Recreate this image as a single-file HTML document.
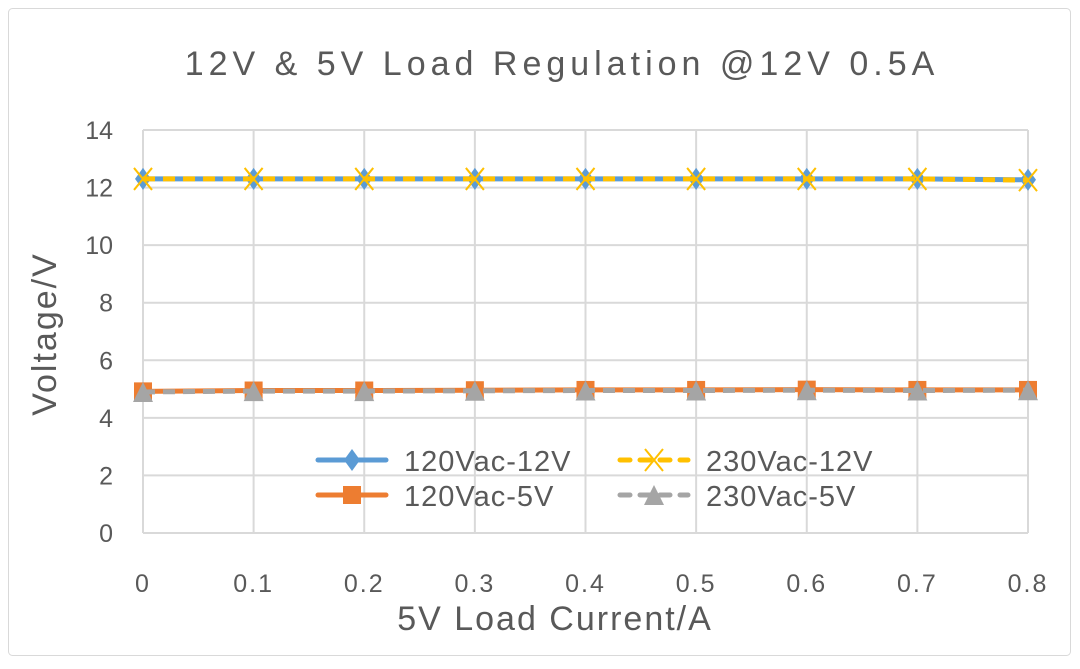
<!DOCTYPE html>
<html><head><meta charset="utf-8"><style>
html,body{margin:0;padding:0;background:#fff;}
svg text{font-family:"Liberation Sans","Noto Sans CJK SC",sans-serif;fill:#595959;}
</style></head><body>
<svg width="1080" height="664" viewBox="0 0 1080 664" xmlns="http://www.w3.org/2000/svg">
<rect x="8.5" y="8.5" width="1062" height="647" fill="#fff" stroke="#d9d9d9" rx="4"/>
<text x="562" y="75" font-size="34" text-anchor="middle" letter-spacing="5">12V &amp; 5V Load Regulation @12V 0.5A</text>
<g id="grid"></g><g id="axes"></g><g id="series"></g><g id="legend"></g>
<text transform="translate(56,334) rotate(-90)" font-size="34" text-anchor="middle" letter-spacing="2">Voltage/V</text>
<text x="555" y="630" font-size="34" text-anchor="middle" letter-spacing="2">5V Load Current/A</text>
</svg>
<script>
const categories=[0,0.1,0.2,0.3,0.4,0.5,0.6,0.7,0.8];
const yTicks=[0,2,4,6,8,10,12,14];
const s120_12=[12.3,12.3,12.3,12.3,12.3,12.3,12.3,12.3,12.27];
const s230_12=[12.3,12.3,12.3,12.3,12.3,12.3,12.3,12.3,12.26];
const s120_5=[4.92,4.95,4.95,4.96,4.97,4.97,4.98,4.97,4.97];
const s230_5=[4.9,4.93,4.93,4.94,4.95,4.95,4.96,4.95,4.96];
const NS="http://www.w3.org/2000/svg";
const X0=143,X1=1028,Y0=533,Y1=130;
const xs=v=>X0+(v-0)/(0.8)*(X1-X0);
const ys=v=>Y0-(v/14)*(Y0-Y1);
function mk(tag,attrs,parent){const e=document.createElementNS(NS,tag);for(const k in attrs)e.setAttribute(k,attrs[k]);parent.appendChild(e);return e;}
const grid=document.getElementById('grid'),axes=document.getElementById('axes'),ser=document.getElementById('series'),leg=document.getElementById('legend');
yTicks.forEach(t=>{const l=mk('line',{x1:X0,x2:X1,y1:ys(t),y2:ys(t),stroke:'#d9d9d9','stroke-width':2},grid);


const tx=mk('text',{x:113,y:ys(t)+9,'font-size':25,'text-anchor':'end'},axes);tx.textContent=t;

});
categories.forEach(c=>{const l=mk('line',{x1:xs(c),x2:xs(c),y1:Y1,y2:Y0,stroke:'#d9d9d9','stroke-width':2},grid);


const tx=mk('text',{x:xs(c),y:592,'font-size':25,'text-anchor':'middle','letter-spacing':2},axes);tx.textContent=c;

});
function marker(type,x,y,color,g){
 if(type==='diamond')return mk('polygon',{points:`${x},${y-11} ${x+8},${y} ${x},${y+11} ${x-8},${y}`,fill:color},g);
 if(type==='square')return mk('rect',{x:x-9,y:y-9,width:18,height:18,fill:color},g);
 if(type==='triangle')return mk('polygon',{points:`${x},${y-10} ${x+10},${y+10} ${x-10},${y+10}`,fill:color},g);
 if(type==='x'){const p=mk('path',{d:`M${x-9},${y-11}L${x+9},${y+11}M${x+9},${y-11}L${x-9},${y+11}`,stroke:color,'stroke-width':2,fill:'none'},g);return p;}
}
const seriesDefs=[
 {name:'120vac-12v',data:s120_12,color:'#5b9bd5',dash:null,m:'diamond'},
 {name:'230vac-12v',data:s230_12,color:'#ffc000',dash:'12 8',m:'x'},
 {name:'120vac-5v',data:s120_5,color:'#ed7d31',dash:null,m:'square'},
 {name:'230vac-5v',data:s230_5,color:'#a5a5a5',dash:'12 8',m:'triangle'}];
seriesDefs.forEach(s=>{const g=mk('g',{},ser);
 
 
 const pts=s.data.map((v,i)=>xs(categories[i])+','+ys(v)).join(' ');
 const a={points:pts,fill:'none',stroke:s.color,'stroke-width':5};if(s.dash)a['stroke-dasharray']=s.dash;
 const pl=mk('polyline',a,g);
 
 
 s.data.forEach((v,i)=>{const m=marker(s.m,xs(categories[i]),ys(v),s.color,g);
  
  });
});
const legPos=[[318,460],[620,460],[318,495],[620,495]];
seriesDefs.forEach((s,i)=>{const [x,y]=legPos[i];const g=mk('g',{},leg);
 
 
 const a={x1:x,x2:x+68,y1:y,y2:y,stroke:s.color,'stroke-width':5,'stroke-linecap':'round'};if(s.dash)a['stroke-dasharray']='10 10';
 mk('line',a,g);marker(s.m,x+34,y,s.color,g);
 const t=mk('text',{x:x+86,y:y+11,'font-size':29,'letter-spacing':1},g);t.textContent=['120Vac-12V','230Vac-12V','120Vac-5V','230Vac-5V'][i];});
</script>
</body></html>
